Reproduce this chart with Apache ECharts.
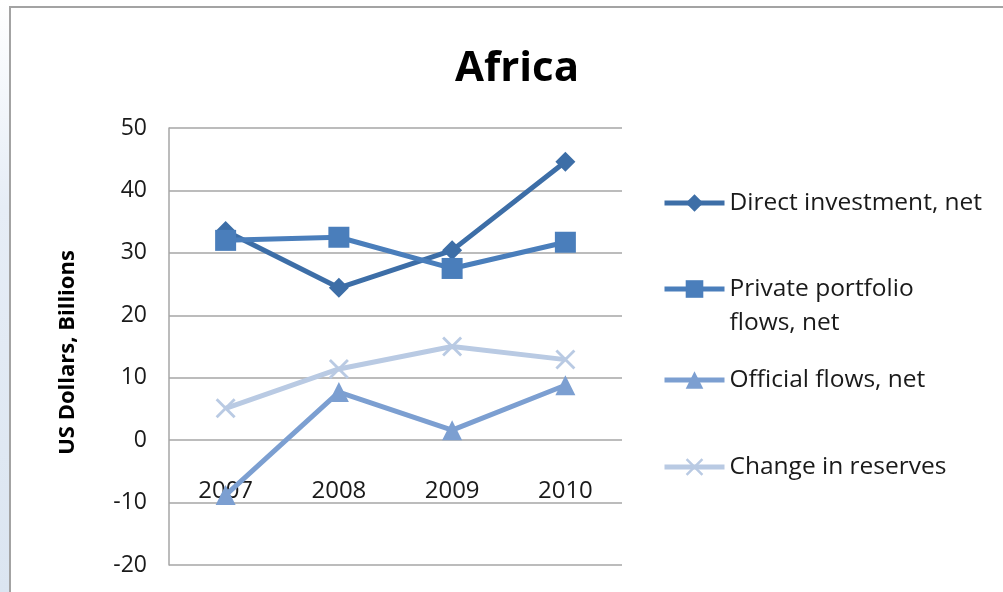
<!DOCTYPE html>
<html>
<head>
<meta charset="utf-8">
<script src="https://cdn.jsdelivr.net/npm/echarts@6/dist/echarts.min.js"></script>
<style>
  html, body { margin: 0; padding: 0; background: #ffffff; }
  #chart { width: 1003px; height: 592px; }
</style>
</head>
<body>
<div id="chart"></div>
<script>
// Net capital flows to Africa, US$ billions
const years = ['2007', '2008', '2009', '2010'];
const directInvestment = [33.5, 24.4, 30.4, 44.6];
const privatePortfolio = [32.0, 32.5, 27.5, 31.7];
const officialFlows = [-8.8, 7.7, 1.6, 8.8];
const reserveChange = [5.1, 11.4, 15.0, 12.9];

const seriesNames = [
  'Direct investment, net',
  'Private portfolio flows, net',
  'Official flows, net',
  'Change in reserves'
];
const yTicks = { min: -20, max: 50, step: 10 };

const FONT = '"Open Sans", "Noto Sans", sans-serif';
const colors = ['#3d6ea7', '#4a7ebb', '#7c9fd1', '#b9cae3'];
const crossPath = 'path://M1,0 L5,4 L9,0 L10,1 L6,5 L10,9 L9,10 L5,6 L1,10 L0,9 L4,5 L0,1 Z';

// Plot area edges in pixels
const PLOT = { left: 169, right: 622, top: 128, bottom: 565 };

function lineSeries(name, data, color, symbol, size) {
  return {
    name: name,
    type: 'line',
    data: data,
    symbol: symbol,
    symbolSize: size,
    lineStyle: { color: color, width: 5 },
    itemStyle: { color: color },
    emphasis: { disabled: true },
    animation: false
  };
}

function legendItem(name, top, label) {
  return {
    orient: 'vertical',
    left: 657,
    top: top,
    itemWidth: 60,
    itemHeight: 22,
    itemGap: 0,
    selectedMode: false,
    data: [name],
    formatter: label ? label : undefined,
    lineStyle: { width: 5 },
    textStyle: {
      fontFamily: FONT,
      fontSize: 24.5,
      color: '#1a1a1a',
      lineHeight: 34
    }
  };
}

const chart = echarts.init(document.getElementById('chart'), null, { renderer: 'canvas' });

chart.setOption({
  backgroundColor: '#ffffff',
  animation: false,
  color: colors,
  title: {
    text: 'Africa',
    left: 512,
    top: 43,
    textAlign: 'center',
    textStyle: { fontFamily: FONT, fontSize: 42, fontWeight: 'bold', color: '#000000' }
  },
  graphic: [
    {
      type: 'rect',
      shape: { x: 0, y: 0, width: 10, height: 592 },
      style: {
        fill: new echarts.graphic.LinearGradient(0, 0, 0, 1, [
          { offset: 0, color: '#ffffff' },
          { offset: 0.35, color: '#e6edf6' },
          { offset: 1, color: '#dbe5f1' }
        ])
      },
      silent: true
    },
    {
      type: 'rect',
      shape: { x: 10, y: 7, width: 1010, height: 600 },
      style: { fill: 'none', stroke: '#a3a3a3', lineWidth: 2 },
      silent: true
    }
  ],
  grid: {
    left: PLOT.left,
    right: 1003 - PLOT.right,
    top: PLOT.top,
    bottom: 592 - PLOT.bottom,
    containLabel: false,
    outerBoundsMode: 'none'
  },
  legend: [
    legendItem(seriesNames[0], 181),
    // the first line of this label sits level with its legend icon
    legendItem(seriesNames[1], 233, ' \nPrivate portfolio\nflows, net'),
    legendItem(seriesNames[2], 358),
    legendItem(seriesNames[3], 445)
  ],
  xAxis: {
    type: 'category',
    data: years,
    boundaryGap: true,
    position: 'bottom',
    // category labels hang below the zero line
    offset: -((PLOT.bottom - PLOT.top) * (0 - yTicks.min) / (yTicks.max - yTicks.min)),
    axisLine: { show: false, onZero: false },
    axisTick: { show: false },
    axisLabel: { margin: 39, fontFamily: FONT, fontSize: 24, color: '#1a1a1a' },
    splitLine: { show: false }
  },
  yAxis: {
    type: 'value',
    min: yTicks.min,
    max: yTicks.max,
    interval: yTicks.step,
    name: 'US Dollars, Billions',
    nameLocation: 'middle',
    nameGap: 90,
    nameTextStyle: { fontFamily: FONT, fontSize: 22, fontWeight: 'bold', color: '#000000', padding: [0, 12, 0, 0] },
    axisLine: { show: true, lineStyle: { color: '#a6a6a6', width: 1.5 } },
    axisTick: { show: false },
    axisLabel: { margin: 22, fontFamily: FONT, fontSize: 23, color: '#1a1a1a', padding: [4, 0, 0, 0] },
    splitLine: { show: true, lineStyle: { color: '#a6a6a6', width: 1.5 } }
  },
  series: [
    lineSeries(seriesNames[0], directInvestment, colors[0], 'diamond', 20),
    lineSeries(seriesNames[1], privatePortfolio, colors[1], 'rect', 21),
    lineSeries(seriesNames[2], officialFlows, colors[2], 'triangle', 20),
    lineSeries(seriesNames[3], reserveChange, colors[3], crossPath, 20)
  ]
});
</script>
</body>
</html>
